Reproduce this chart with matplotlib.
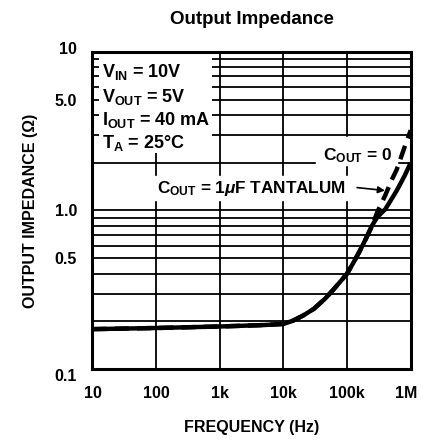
import matplotlib
matplotlib.use('Agg')
import matplotlib.pyplot as plt
import numpy as np
from matplotlib.patches import Rectangle
from matplotlib.ticker import NullLocator
from matplotlib.transforms import ScaledTranslation

plt.rcParams['font.family'] = ['Liberation Sans', 'DejaVu Sans']
plt.rcParams['font.weight'] = 'bold'
plt.rcParams['axes.labelweight'] = 'bold'
plt.rcParams['mathtext.fontset'] = 'custom'
plt.rcParams['mathtext.rm'] = 'Liberation Sans:bold'
plt.rcParams['mathtext.bf'] = 'Liberation Sans:bold'
plt.rcParams['mathtext.it'] = 'Liberation Sans:bold:italic'

# shared part of both curves
freq_common = np.array([10, 100, 1e3, 5e3, 10e3, 14e3, 20e3, 30e3, 45e3, 60e3,
                        80e3, 100e3, 130e3, 160e3, 200e3, 250e3])
z_common = np.array([0.179, 0.182, 0.186, 0.190, 0.193, 0.202, 0.217, 0.240, 0.278,
                     0.315, 0.36, 0.40, 0.48, 0.56, 0.67, 0.81])

# split above ~250 kHz
freq_hi = np.array([300e3, 400e3, 500e3, 600e3, 800e3, 1e6])
z_tant = np.array([0.91, 1.02, 1.18, 1.33, 1.65, 2.0])   # C_OUT = 1uF tantalum
z_nocap = np.array([0.98, 1.25, 1.55, 1.80, 2.5, 3.2])   # C_OUT = 0

x_ticks = [10, 100, 1e3, 10e3, 100e3, 1e6]
x_labels = ['10', '100', '1k', '10k', '100k', '1M']
y_ticks = [0.1, 0.5, 1.0, 5.0, 10]
y_labels = ['0.1', '0.5', '1.0', '5.0', '10']

fig = plt.figure(figsize=(4.27, 4.40), dpi=100)
ax = fig.add_axes([0.2166, 0.1607, 0.7452, 0.7218])
ax.set_xscale('log')
ax.set_yscale('log')
ax.set_xlim(10, 1e6)
ax.set_ylim(0.1, 10)

# grid, drawn by hand because parts of it are left open
low_levels = [0.2, 0.3, 0.4, 0.5, 0.6, 0.7, 0.8, 0.9, 1.0, 2.0]
up_levels = [3, 4, 5, 6, 7, 8, 9]
gkw = dict(color='black', lw=1.3, zorder=1)
ax.hlines(low_levels, 10, 1e6, **gkw)
ax.hlines(up_levels, 750, 1e6, **gkw)
ax.hlines(up_levels, 10, 12.8, **gkw)
ax.vlines(100, 0.1, 2.3, **gkw)
ax.vlines([1e3, 10e3, 100e3], 0.1, 10, **gkw)

# white space behind the curve labels
ax.add_patch(Rectangle((80, 1.17), 110e3 - 80, 1.64 - 1.17, color='white', zorder=2))
ax.add_patch(Rectangle((33e3, 1.93), 600e3 - 33e3, 2.9 - 1.93, color='white', zorder=2))

f_all = np.concatenate([freq_common, freq_hi])
ax.plot(f_all, np.concatenate([z_common, z_tant]), color='black', lw=3.2,
        solid_capstyle='butt', zorder=3)
ax.plot(f_all, np.concatenate([z_common, z_nocap]), color='black', lw=3.2,
        dashes=(3.2, 1.8), zorder=3)

for s in ax.spines.values():
    s.set_linewidth(2.2)
    s.set_zorder(5)

ax.xaxis.set_minor_locator(NullLocator())
ax.yaxis.set_minor_locator(NullLocator())
ax.set_xticks(x_ticks, x_labels)
ax.set_yticks(y_ticks, y_labels)
ax.tick_params(axis='both', length=0, labelsize=11.5)
ax.tick_params(axis='x', pad=12)
ax.tick_params(axis='y', pad=11)
ylabs = ax.get_yticklabels()
ylabs[0].set_transform(ylabs[0].get_transform() + ScaledTranslation(0, -4 / 72, fig.dpi_scale_trans))
ylabs[-1].set_transform(ylabs[-1].get_transform() + ScaledTranslation(0, 3 / 72, fig.dpi_scale_trans))
xlabs = ax.get_xticklabels()
xlabs[-1].set_transform(xlabs[-1].get_transform() + ScaledTranslation(-3 / 72, 0, fig.dpi_scale_trans))

ax.set_title('Output Impedance', fontsize=13.5, fontweight='bold', pad=20)
ax.set_xlabel('FREQUENCY (Hz)', fontsize=11.5, fontweight='bold', labelpad=14)
ax.set_ylabel('OUTPUT IMPEDANCE (\u03a9)', fontsize=11.5, fontweight='bold', labelpad=12)

tkw = dict(transform=ax.transAxes, fontsize=13, ha='left', va='baseline', zorder=4)
ax.text(0.03, 0.921, r'$\mathrm{V_{IN}}$ = 10V', **tkw)
ax.text(0.03, 0.843, r'$\mathrm{V_{OUT}}$ = 5V', **tkw)
ax.text(0.03, 0.770, r'$\mathrm{I_{OUT}}$ = 40 mA', **tkw)
ax.text(0.03, 0.696, r'$\mathrm{T_A}$ = 25°C', **tkw)

ax.text(521e3, 2.23, r'$\mathrm{C_{OUT}}$ = 0', fontsize=12.5, ha='right', va='center', zorder=4)
ax.text(103, 1.38, r'$\mathrm{C_{OUT}}$ = 1$\mathit{\mu}$F TANTALUM', fontsize=12.3,
        ha='left', va='center', zorder=4)
ax.annotate('', xy=(435e3, 1.33), xytext=(130e3, 1.40),
            arrowprops=dict(arrowstyle='-|>', color='black', lw=1.2, mutation_scale=10),
            zorder=4)

fig.savefig('out.png', dpi=100)
